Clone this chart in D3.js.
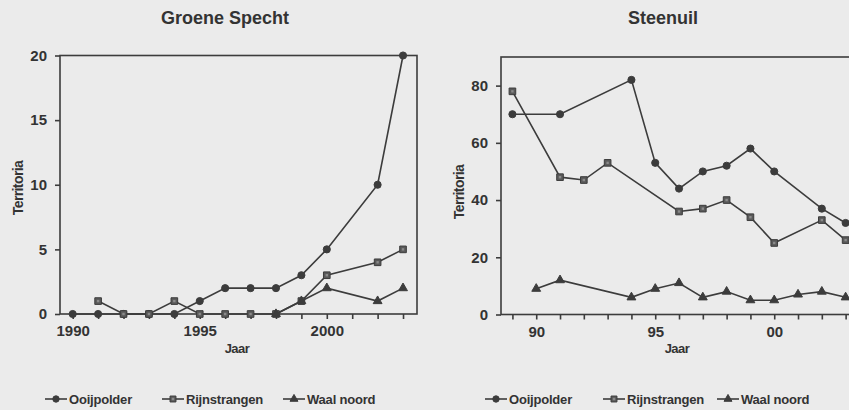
<!DOCTYPE html>
<html>
<head>
<meta charset="utf-8">
<script src="https://cdn.jsdelivr.net/npm/d3@7"></script>
<style>
  html, body { margin: 0; padding: 0; background: #ebebeb; }
  svg { display: block; }
  text { font-family: "Liberation Sans", Arial, sans-serif; fill: #333; }
</style>
</head>
<body>
<svg id="chart" width="849" height="410"></svg>
<script>
// ---------- DATA ----------
const seriesNames = ["Ooijpolder", "Rijnstrangen", "Waal noord"];

// Groene Specht (left)
const gsYears = [1990,1991,1992,1993,1994,1995,1996,1997,1998,1999,2000,2001,2002,2003];
const gsOoijpolder   = [0,0,0,0,0,1,2,2,2,3,5,null,10,20];
const gsRijnstrangen = [null,1,0,0,1,0,0,0,0,1,3,null,4,5];
const gsWaalNoord    = [null,null,null,null,null,null,null,null,0,1,2,null,1,2];
const gsYTicks = [0,5,10,15,20];
const gsXLabels = [1990,1995,2000];

// Steenuil (right)
const stYears = [1989,1990,1991,1992,1993,1994,1995,1996,1997,1998,1999,2000,2001,2002,2003];
const stOoijpolder   = [70,null,70,null,null,82,53,44,50,52,58,50,null,37,32];
const stRijnstrangen = [78,null,48,47,53,null,null,36,37,40,34,25,null,33,26];
const stWaalNoord    = [null,9,12,null,null,6,9,11,6,8,5,5,7,8,6];
const stYTicks = [0,20,40,60,80];
const stXLabels = [1990,1995,2000];
const stXLabelText = ["90","95","00"];

// ---------- DRAWING ----------
const svg = d3.select("#chart");
const ink = "#3c3c3c";
const symbols = [d3.symbolCircle, d3.symbolSquare, d3.symbolTriangle];
const symSizes = [40, 44, 34];

function drawMarker(g, idx, x, y, scale = 1) {
  g.append("path")
    .attr("d", d3.symbol().type(symbols[idx]).size(symSizes[idx] * scale)())
    .attr("transform", `translate(${x},${y})`)
    .attr("fill", idx === 1 ? "#5a5a5a" : ink)
    .attr("stroke", ink)
    .attr("stroke-width", 1);
  if (idx === 1) {
    g.append("rect").attr("x", x - 1.2).attr("y", y - 1.2).attr("width", 2.4).attr("height", 2.4)
      .attr("fill", "#8a8a8a");
  }
}

function panel(cfg) {
  const g = svg.append("g");
  const x = d3.scaleLinear().domain(cfg.xDomain).range(cfg.xRange);
  const y = d3.scaleLinear().domain(cfg.yDomain).range(cfg.yRange);
  const [x0, x1] = cfg.xRange;
  const [yb, yt] = cfg.yRange;

  // frame
  g.append("rect").attr("x", x0).attr("y", yt).attr("width", x1 - x0).attr("height", yb - yt)
    .attr("fill", "none").attr("stroke", ink).attr("stroke-width", 1.6);

  // x axis
  const xAxis = d3.axisBottom(x).tickValues(cfg.years).tickSize(5)
    .tickFormat(d => { const i = cfg.xLabels.indexOf(d); return i >= 0 ? cfg.xLabelText[i] : ""; });
  const gx = g.append("g").attr("transform", `translate(0,${yb})`).call(xAxis);
  gx.select(".domain").remove();
  gx.selectAll(".tick line").attr("stroke", ink).attr("stroke-width", 1.6);
  gx.selectAll(".tick text").attr("font-size", 15).attr("font-weight", "bold")
    .attr("dy", "0.95em").attr("fill", "#3a3a3a");

  // y axis
  const yAxis = d3.axisLeft(y).tickValues(cfg.yTicks).tickSize(5).tickPadding(8);
  const gy = g.append("g").attr("transform", `translate(${x0},0)`).call(yAxis);
  gy.select(".domain").remove();
  gy.selectAll(".tick line").attr("stroke", ink).attr("stroke-width", 1.6);
  gy.selectAll(".tick text").attr("font-size", 15).attr("font-weight", "bold").attr("fill", "#3a3a3a");

  // title
  g.append("text").attr("x", cfg.titleX).attr("y", 24).attr("text-anchor", "middle")
    .attr("font-size", 18).attr("font-weight", "bold").attr("fill", "#3a3a3a").text(cfg.title);
  // axis labels
  g.append("text").attr("x", cfg.jaarX).attr("y", 353).attr("text-anchor", "middle")
    .attr("font-size", 13).attr("font-weight", "bold").attr("letter-spacing", -0.5).text("Jaar");
  g.append("text").attr("transform", `translate(${cfg.terrX},${cfg.terrY}) rotate(-90)`)
    .attr("text-anchor", "middle").attr("font-size", 14).attr("font-weight", "bold")
    .attr("letter-spacing", -0.6).text("Territoria");

  // series
  cfg.series.forEach((vals, si) => {
    const pts = cfg.years.map((yr, i) => [yr, vals[i]]).filter(d => d[1] !== null);
    g.append("path").datum(pts)
      .attr("d", d3.line().x(d => x(d[0])).y(d => y(d[1])))
      .attr("fill", "none").attr("stroke", ink).attr("stroke-width", 1.6);
    pts.forEach(d => drawMarker(g, si, x(d[0]), y(d[1])));
  });

  // legend
  cfg.legendX.forEach((lx, i) => {
    const ly = 399;
    g.append("line").attr("x1", lx).attr("x2", lx + 22).attr("y1", ly).attr("y2", ly)
      .attr("stroke", ink).attr("stroke-width", 1.6);
    drawMarker(g, i, lx + 11, ly, 0.8);
    g.append("text").attr("x", lx + 24).attr("y", ly + 5).attr("font-size", 13)
      .attr("font-weight", "bold").attr("fill", "#3a3a3a")
      .attr("letter-spacing", -0.2).text(seriesNames[i]);
  });
}

panel({
  title: "Groene Specht", titleX: 225,
  years: gsYears, series: [gsOoijpolder, gsRijnstrangen, gsWaalNoord],
  xDomain: [1989.5, 2003.55], xRange: [60, 417],
  yDomain: [0, 20], yRange: [314, 55.5],
  yTicks: gsYTicks, xLabels: gsXLabels, xLabelText: gsXLabels.map(String),
  jaarX: 237, terrX: 23, terrY: 188,
  legendX: [45, 162, 283]
});

panel({
  title: "Steenuil", titleX: 663,
  years: stYears, series: [stOoijpolder, stRijnstrangen, stWaalNoord],
  xDomain: [1988.52, 2003.52], xRange: [501, 858],
  yDomain: [0, 90], yRange: [314.5, 57],
  yTicks: stYTicks, xLabels: stXLabels, xLabelText: stXLabelText,
  jaarX: 677, terrX: 464, terrY: 192,
  legendX: [485, 603, 717]
});
</script>
</body>
</html>
